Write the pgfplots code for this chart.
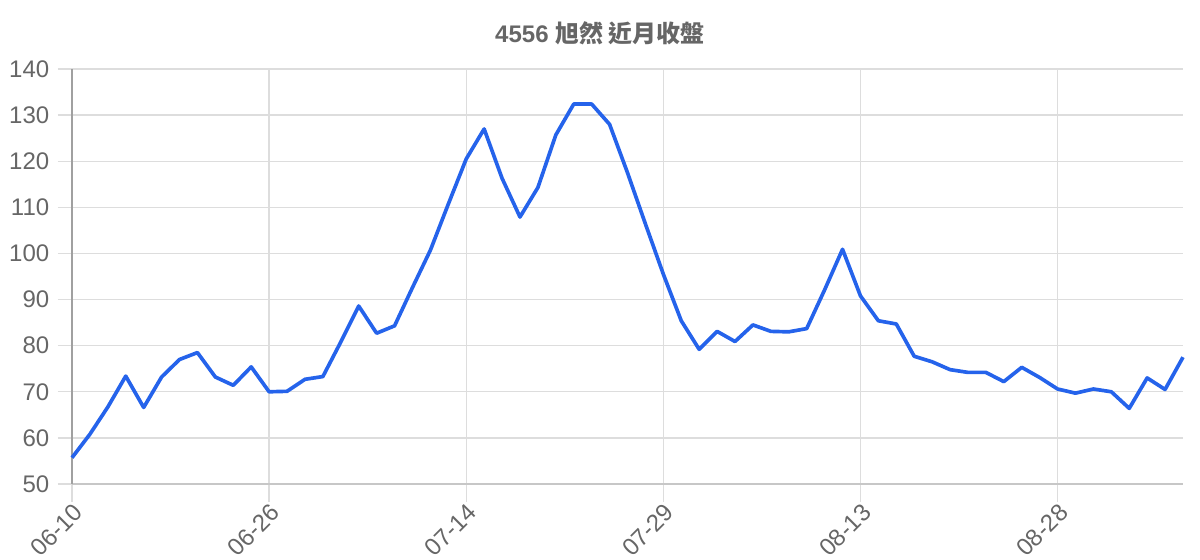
\documentclass[border=0pt]{standalone}
\usepackage{fontspec}
\setmainfont{Liberation Sans}
\newfontfamily\cjk{Noto Sans CJK TC}
\usepackage{pgfplots}
\pgfplotsset{compat=1.18}
\usepackage{pgfplotstable}

\definecolor{lineblue}{RGB}{37,99,235}
\definecolor{gridgray}{RGB}{221,221,221}
\definecolor{axisgray}{RGB}{160,160,160}
\definecolor{textgray}{RGB}{102,102,102}

% closing prices, one per trading day
\pgfplotstableread{
idx close
0 55.7
1 60.8
2 66.7
3 73.4
4 66.6
5 73.2
6 77.0
7 78.5
8 73.2
9 71.4
10 75.4
11 70.0
12 70.1
13 72.7
14 73.3
15 80.8
16 88.6
17 82.7
18 84.3
19 92.6
20 100.7
21 110.7
22 120.5
23 127.0
24 116.3
25 107.9
26 114.3
27 125.7
28 132.4
29 132.4
30 128.0
31 117.5
32 106.4
33 95.5
34 85.4
35 79.2
36 83.1
37 80.9
38 84.5
39 83.1
40 83.0
41 83.7
42 92.1
43 100.9
44 90.8
45 85.4
46 84.7
47 77.7
48 76.5
49 74.8
50 74.2
51 74.2
52 72.2
53 75.3
54 73.1
55 70.6
56 69.7
57 70.6
58 70.0
59 66.4
60 73.0
61 70.5
62 77.5
}\closedata

\begin{document}
\begin{tikzpicture}
\useasboundingbox (0,0) rectangle (720pt,336pt);
\node[font=\bfseries\fontsize{14.4}{16}\selectfont, text=textgray] at (360pt,316pt)
  {4556 {\cjk\bfseries 旭然 近月收盤}};
\begin{axis}[
    at={(43.2pt,45.6pt)},
    anchor=south west,
    scale only axis,
    width=666.6pt,
    height=249pt,
    xmin=0, xmax=62,
    ymin=50, ymax=140,
    ytick={50,60,...,140},
    xtick={0,11,22,33,44,55},
    xticklabels={06-10,06-26,07-14,07-29,08-13,08-28},
    axis lines=left,
    axis line style={-},
    x axis line style={draw=gridgray!90!black, line width=0.9pt},
    y axis line style={draw=axisgray, line width=0.8pt},
    grid=major,
    major grid style={draw=gridgray, line width=0.8pt},
    tick align=outside,
    xtick style={draw=gridgray, line width=0.8pt, /pgfplots/major tick length=11pt},
    ytick style={draw=gridgray, line width=0.8pt, /pgfplots/major tick length=8.4pt},
    tick label style={font=\fontsize{14.4}{16}\selectfont, text=textgray},
    xticklabel style={rotate=45, anchor=east, inner sep=1pt, yshift=-10pt, xshift=-3.5pt},
    yticklabel style={inner sep=2pt, xshift=-7.2pt},
    /pgf/number format/assume math mode=true,
    clip=false,
]
\addplot[lineblue, line width=2.2pt, line join=round] table[x=idx, y=close] {\closedata};
\end{axis}
\end{tikzpicture}
\end{document}
